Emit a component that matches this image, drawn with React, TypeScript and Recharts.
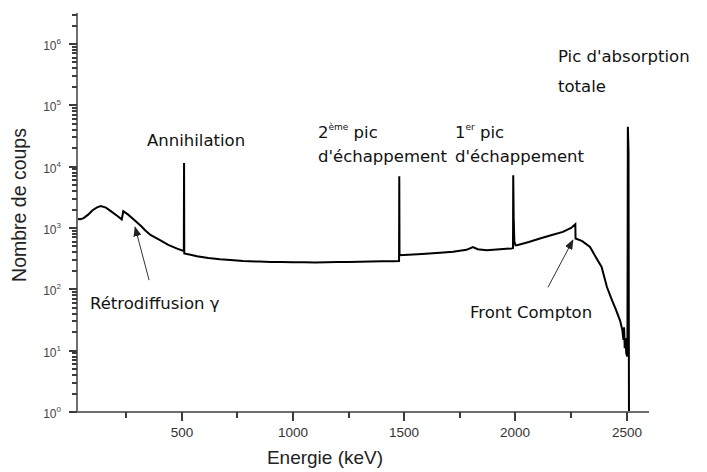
import { LineChart, Line, XAxis, YAxis, ReferenceLine } from "recharts";

// spectrum (energy in keV, counts)
const energies = [
  30, 45, 60, 80, 100, 120, 137, 160, 185, 210,
  231, 238, 260, 290, 320, 336, 360, 403, 440, 480,
  506, 510, 511, 512, 540, 569, 620, 672, 720, 776,
  850, 900, 950, 1000, 1050, 1100, 1150, 1200, 1250, 1300,
  1350, 1400, 1450, 1477, 1478, 1479, 1520, 1580, 1661, 1720,
  1780, 1809, 1830, 1871, 1930, 1983, 1989, 1990, 1992, 1995,
  2000, 2007, 2060, 2110, 2160, 2213, 2250, 2269, 2270, 2300,
  2335, 2360, 2387, 2411, 2434, 2450, 2470, 2480, 2485, 2488,
  2491, 2494, 2498, 2503, 2505, 2508, 2510,
];
const counts = [
  1400, 1390, 1450, 1650, 1950, 2170, 2270, 2150, 1850, 1580,
  1380, 1880, 1650, 1330, 1060, 920, 770, 632, 530, 460,
  425, 423, 11500, 385, 365, 347, 325, 310, 300, 290,
  283, 280, 278, 276, 277, 275, 277, 278, 279, 281,
  283, 286, 288, 290, 6950, 360, 365, 375, 393, 410,
  440, 490, 450, 435, 450, 463, 470, 7260, 1500, 600,
  525, 524, 590, 675, 760, 865, 1000, 1150, 675, 610,
  490, 340, 232, 109, 66, 48, 31, 22, 15, 24,
  11, 16, 9, 8, 44600, 17400, 1,
];

const xTicks = [250, 500, 750, 1000, 1250, 1500, 1750, 2000, 2250, 2500];
const yDecades = [1, 10, 100, 1000, 10000, 100000, 1000000];

// minor log ticks 2..9 in each decade
const yTicks: number[] = [];
yDecades.forEach((d) => {
  yTicks.push(d);
  for (let m = 2; m <= 9; m++) if (m * d <= 3.2e6) yTicks.push(m * d);
});

const data = energies.map((e, i) => ({ e, c: counts[i] }));

const AXIS = "#6e6e6e";
const TICK_COLOR = "#3c3c3c";
const TICK_FONT = "'Liberation Sans', Arial, sans-serif";
const NOTE_FONT = "'Comic Sans MS', 'DejaVu Sans', sans-serif";

// tickSize is 0, so x / y is the axis line itself; marks are drawn here
function YTick(props: any) {
  const x = Math.round(Number(props.x));
  const y = Math.round(Number(props.y));
  const lg = Math.log10(props.payload.value);
  const exp = Math.round(lg);
  const major = Math.abs(lg - exp) < 1e-6;
  const len = major ? 8 : 5;
  return (
    <g>
      <rect x={x - len} y={y - 1} width={len} height={2} fill={TICK_COLOR} stroke="none" />
      {major && (
        <text x={x - 16} y={y + 6} textAnchor="end" fontSize={12} fill="#444" fontFamily={TICK_FONT}>
          10<tspan dy={-6} fontSize={8}>{exp}</tspan>
        </text>
      )}
    </g>
  );
}

function XTick(props: any) {
  const x = Math.round(Number(props.x));
  const y = Math.round(Number(props.y));
  const major = props.payload.value % 500 === 0;
  return (
    <g>
      <rect x={x - 1} y={y} width={2} height={major ? 9 : 6} fill={TICK_COLOR} stroke="none" />
      {major && (
        <text x={x} y={y + 25} textAnchor="middle" fontSize={13.5} fill="#333" fontFamily={TICK_FONT}>
          {props.payload.value}
        </text>
      )}
    </g>
  );
}

export default function App() {
  return (
    <div style={{ position: "absolute", left: 0, top: 0, width: 707, height: 472, background: "#fff" }}>
      <LineChart width={707} height={472} data={data} margin={{ top: 13, right: 58, bottom: 0, left: 0 }}>
        <XAxis
          dataKey="e"
          type="number"
          domain={[30, 2600]}
          allowDataOverflow
          ticks={xTicks}
          interval={0}
          height={60}
          tickSize={0}
          tickMargin={0}
          tickLine={false}
          tick={<XTick />}
          axisLine={{ stroke: AXIS, strokeWidth: 2 }}
        />
        <YAxis
          type="number"
          scale="log"
          domain={[1, 3.2e6]}
          allowDataOverflow
          ticks={yTicks}
          interval={0}
          width={77}
          tickSize={0}
          tickMargin={0}
          tickLine={false}
          tick={<YTick />}
          axisLine={{ stroke: AXIS, strokeWidth: 2 }}
        />
        <Line
          type="linear"
          dataKey="c"
          stroke="#000"
          strokeWidth={2}
          dot={false}
          isAnimationActive={false}
        />
        <ReferenceLine
          segment={[{ x: 354, y: 141 }, { x: 291, y: 1030 }]}
          stroke="#333"
          strokeWidth={1}
          ifOverflow="visible"
          markerEnd="url(#arrowHead)"
        />
        <ReferenceLine
          segment={[{ x: 2146, y: 108 }, { x: 2258, y: 632 }]}
          stroke="#333"
          strokeWidth={1}
          ifOverflow="visible"
          markerEnd="url(#arrowHead)"
        />
      </LineChart>

      <svg
        width={707}
        height={472}
        style={{ position: "absolute", left: 0, top: 0, pointerEvents: "none" }}
      >
        <defs>
          <marker id="arrowHead" markerWidth="10" markerHeight="8" refX="9" refY="4" orient="auto" markerUnits="userSpaceOnUse">
            <path d="M0,0 L10,4 L0,8 Z" fill="#222" />
          </marker>
        </defs>

        {/* axis titles */}
        <text x={325} y={464} textAnchor="middle" fontSize={19} fill="#222" fontFamily={TICK_FONT}>
          Energie (keV)
        </text>
        <text
          x={0}
          y={0}
          transform="translate(26, 205) rotate(-90)"
          textAnchor="middle"
          fontSize={19.5}
          fill="#222"
          fontFamily={TICK_FONT}
        >
          Nombre de coups
        </text>

        {/* annotations */}
        <g fontFamily={NOTE_FONT} fontSize={16.5} fill="#111">
          <text x={147} y={146}>Annihilation</text>
          <text x={318} y={138}>
            2<tspan dy={-8} fontSize={9}>ème</tspan>
            <tspan dy={8}> pic</tspan>
          </text>
          <text x={318} y={162}>d'échappement</text>
          <text x={455} y={138}>
            1<tspan dy={-8} fontSize={9}>er</tspan>
            <tspan dy={8}> pic</tspan>
          </text>
          <text x={455} y={162}>d'échappement</text>
          <text x={558} y={62}>Pic d'absorption</text>
          <text x={558} y={92}>totale</text>
          <text x={90} y={309}>Rétrodiffusion γ</text>
          <text x={470} y={318}>Front Compton</text>
        </g>
      </svg>
    </div>
  );
}
